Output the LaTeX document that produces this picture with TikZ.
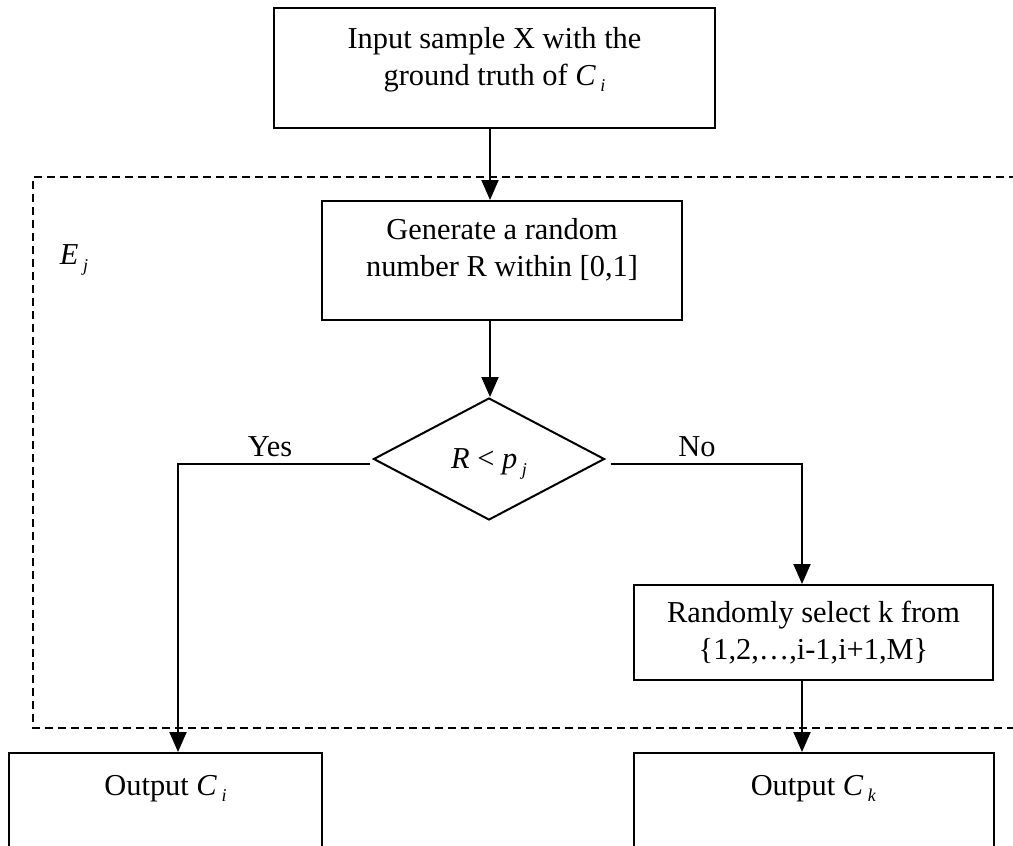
\documentclass[tikz,border=0pt]{standalone}
\usepackage{fontspec}
\setmainfont{Liberation Serif}
\usetikzlibrary{positioning, calc, arrows.meta, shapes.geometric}
\newcommand{\symsub}[2]{\textit{#1}\kern0.15em\raisebox{-0.45ex}{\fontsize{9}{9}\selectfont\textit{#2}}}

\begin{document}
\begin{tikzpicture}[x=0.5pt, y=-0.5pt,
    every node/.style={font=\fontsize{15.2}{18.5}\selectfont},
    box/.style={draw, line width=1pt, align=center, inner sep=0pt},
    decision/.style={draw, diamond, line width=1pt, inner sep=0pt, minimum width=115.5pt, minimum height=61pt},
    link/.style={line width=1pt},
    arr/.style={line width=1pt, -{Triangle[length=10pt, width=8.5pt]}},
    region/.style={line width=1pt, dash pattern=on 4pt off 2.5pt}]

        \useasboundingbox (0,0) rectangle (1013,846);
        \clip (0,0) rectangle (1013,846);

        % E_j region
        \draw[region] (1030,177) -- (33,177) -- (33,728) -- (1030,728);
        \node (ej) at (74,260) {\symsub{E}{j}};

        % input
        \node[box, minimum width=220.5pt, minimum height=60pt, text depth=12pt] (input) at (494.5,68)
            {Input sample X with the\\ ground truth of \symsub{C}{i}};

        % random number
        \node[box, minimum width=180pt, minimum height=59.5pt, text depth=13pt] (gen) at (502,260.5)
            {Generate a random\\ number R within [0,1]};

        % test
        \node[decision, text depth=0pt] (dec) at (489,459) {\textit{R} < \symsub{p}{j}};
        \node (yes) at (270,447) {Yes};
        \node (no) at (697,447) {No};

        % select k
        \node[box, minimum width=179.5pt, minimum height=47.5pt] (rand) at (813.5,632.5)
            {Randomly select k from\\ \{1,2,\dots,i-1,i+1,M\}};

        % outputs
        \node[box, minimum width=156.5pt, minimum height=60pt, text depth=28pt] (outi) at (165.5,813)
            {Output \symsub{C}{i}};
        \node[box, minimum width=180pt, minimum height=60pt, text depth=28pt] (outk) at (813.5,813)
            {Output \symsub{C}{k}};

        % connectors
        \coordinate (axis) at (490,0);
        \coordinate (ybend) at (178,464);
        \coordinate (nbend) at (802,464);
        \draw[arr] (input.south -| axis) -- (gen.north -| axis);
        \draw[arr] (gen.south -| axis) -- (dec.north -| axis);
        \draw[arr, shorten <=1.5pt] (dec.west |- ybend) -- (ybend) -- (ybend |- outi.north);
        \draw[arr, shorten <=2.5pt] (dec.east |- nbend) -- (nbend) -- (nbend |- rand.north);
        \draw[arr] (rand.south -| nbend) -- (outk.north -| nbend);
      \end{tikzpicture}
\end{document}
